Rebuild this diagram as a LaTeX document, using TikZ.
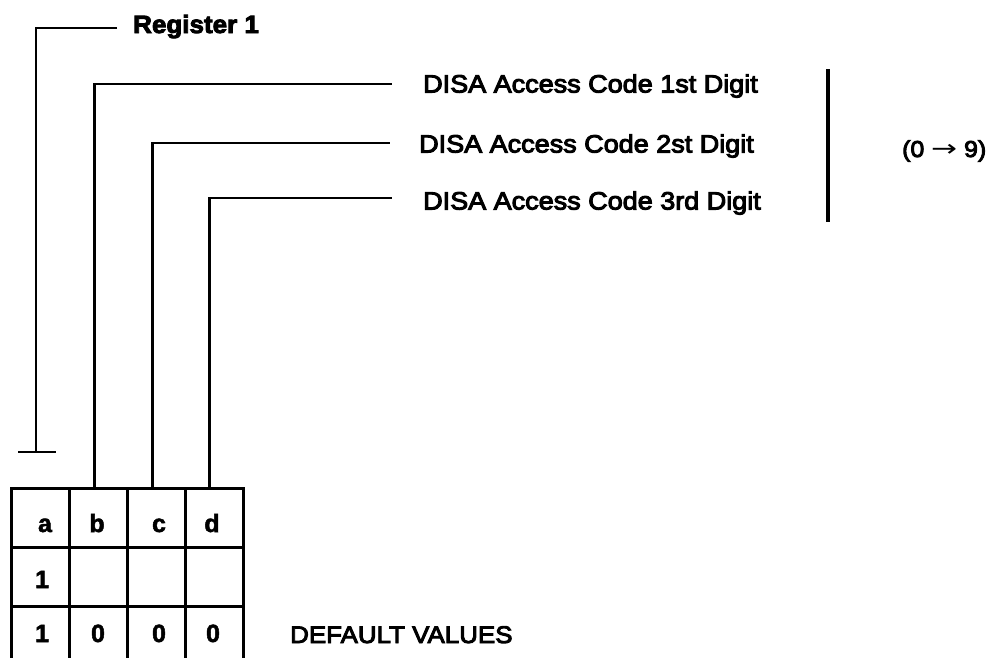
\documentclass[tikz,border=0pt]{standalone}
\usepackage{fontspec}
\setmainfont{Liberation Sans}
\newfontfamily\medf[FakeBold=4,FakeStretch=1.08]{Liberation Sans}
\newfontfamily\heavyf[FakeBold=3.5,FakeStretch=1.04]{Liberation Sans Bold}
\newfontfamily\cellf[FakeBold=2]{Liberation Sans Bold}
\newfontfamily\arrf{DejaVu Sans}
\tikzset{
  conn/.style={line width=2.6pt},
  regline/.style={line width=2.2pt},
  cell/.style={draw, line width=3pt, minimum width=58pt, minimum height=59pt, inner sep=0pt, anchor=north west},
  lbl/.style={inner sep=0pt, anchor=base west, font=\medf\fontsize{25}{30}\selectfont},
  cellchar/.style={inner sep=0pt, anchor=base, font=\cellf\fontsize{25}{30}\selectfont},
}
\begin{document}
\begin{tikzpicture}[x=1pt,y=-1pt]
\useasboundingbox (0,0) rectangle (989,657);
\clip (0,0) rectangle (989,657);

% table cells
\foreach \i in {1,2,3}{
  \foreach \j in {1,2,3,4}{
    \node[cell] (c\i\j) at ({10+58*(\j-1)},{487+59*(\i-1)}) {};
  }
}
% cell contents
\node[cellchar] (la) at (45,532) {a};
\node[cellchar] (lb) at (97,532) {b};
\node[cellchar] (lc) at (159,532) {c};
\node[cellchar] (ld) at (212,532) {d};
\node[cellchar] (r2a) at (42,588) {1};
\node[cellchar] (r3a) at (42,642) {1};
\node[cellchar] (r3b) at (98,642) {0};
\node[cellchar] (r3c) at (159,642) {0};
\node[cellchar] (r3d) at (213,642) {0};

% labels
\node[inner sep=0pt, anchor=base west, font=\heavyf\fontsize{25}{30}\selectfont] (reg) at (133,33) {Register 1};
\node[lbl] (t1) at (423,92.5) {DISA Access Code 1st Digit};
\node[lbl] (t2) at (419,152.5) {DISA Access Code 2st Digit};
\node[lbl] (t3) at (423,209.5) {DISA Access Code 3rd Digit};
\node[lbl, font=\medf\fontsize{23}{28}\selectfont] (rng) at (902,157) {(0 {\arrf\raisebox{0.5pt}{\scalebox{1.35}[1]{→}}} 9)};
\node[lbl, font=\medf\fontsize{24}{28}\selectfont] (dv) at (290,643) {DEFAULT VALUES};

% connector end points
\coordinate (regend) at (117,28);
\coordinate (tee) at (36,452);
\coordinate (teeL) at (18,452);
\coordinate (teeR) at (56,452);
\coordinate (e1) at (392,84);
\coordinate (e2) at (390,143);
\coordinate (e3) at (392,198);
\coordinate (barT) at (828,69);
\coordinate (barB) at (828,222);

% register line with T end
\draw[regline] (regend) -| (tee);
\draw[regline] (teeL) -- (teeR);

% digit connectors
\draw[conn] ([xshift=-4pt]c12.north) |- (e1);
\draw[conn] ([xshift=-4pt]c13.north) |- (e2);
\draw[conn] ([xshift=-5pt]c14.north) |- (e3);

% range bar
\draw[line width=3.2pt] (barT) -- (barB);
\end{tikzpicture}
\end{document}
